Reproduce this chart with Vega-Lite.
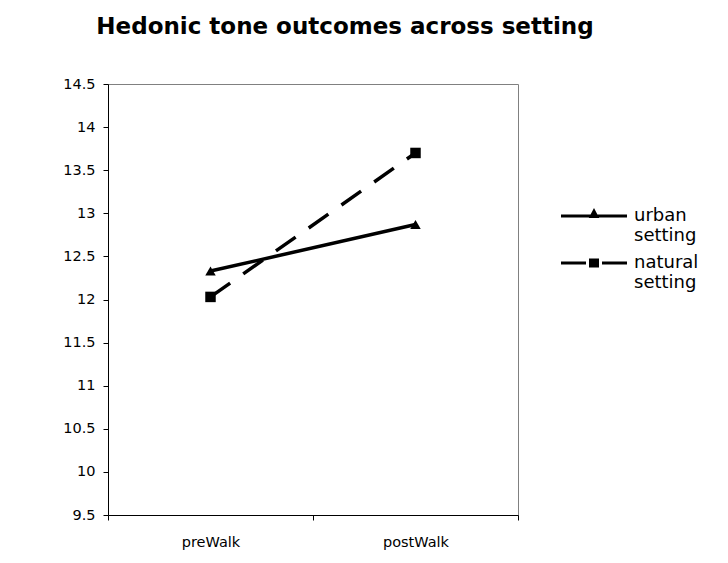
{
  "$schema": "https://vega.github.io/schema/vega-lite/v6.json",
  "width": 410,
  "height": 431,
  "autosize": {"type": "none"},
  "padding": {"left": 108, "top": 84, "right": 210, "bottom": 48},
  "background": "white",
  "title": {
    "text": "Hedonic tone outcomes across setting",
    "font": "DejaVu Sans",
    "fontSize": 23,
    "fontWeight": "bold",
    "color": "black",
    "anchor": "middle",
    "frame": "group",
    "dx": 32,
    "offset": 37
  },
  "config": {
    "view": {"stroke": "#808080", "strokeWidth": 1},
    "axis": {
      "grid": false,
      "domainColor": "black",
      "domainWidth": 1,
      "tickColor": "black",
      "tickSize": 5,
      "labelFont": "DejaVu Sans",
      "labelFontSize": 14.5,
      "labelColor": "black",
      "title": null
    }
  },
  "data": {
    "values": [
      {"time": "preWalk", "setting": "urban setting", "value": 12.33},
      {"time": "postWalk", "setting": "urban setting", "value": 12.87},
      {"time": "preWalk", "setting": "natural setting", "value": 12.03},
      {"time": "postWalk", "setting": "natural setting", "value": 13.70}
    ]
  },
  "encoding": {
    "x": {
      "field": "time",
      "type": "nominal",
      "sort": ["preWalk", "postWalk"],
      "scale": {"type": "band", "paddingInner": 0, "paddingOuter": 0},
      "bandPosition": 0.5,
      "axis": {"labelAngle": 0, "tickBand": "extent", "labelPadding": 15}
    },
    "y": {
      "field": "value",
      "type": "quantitative",
      "scale": {"domain": [9.5, 14.5], "nice": false, "zero": false},
      "axis": {
        "values": [9.5, 10, 10.5, 11, 11.5, 12, 12.5, 13, 13.5, 14, 14.5],
        "format": "~g",
        "labelPadding": 8
      }
    }
  },
  "resolve": {"scale": {"shape": "independent"}, "legend": {"shape": "independent"}},
  "layer": [
    {
      "transform": [{"filter": "datum.setting === 'urban setting'"}],
      "mark": {"type": "line", "strokeWidth": 3.5, "color": "black", "strokeCap": "butt"}
    },
    {
      "transform": [{"filter": "datum.setting === 'natural setting'"}],
      "mark": {"type": "line", "strokeWidth": 3.5, "color": "black", "strokeCap": "butt", "strokeDash": [24, 16]}
    },
    {
      "mark": {"type": "point", "filled": true, "opacity": 1, "color": "black", "size": 110},
      "encoding": {
        "shape": {
          "field": "setting",
          "type": "nominal",
          "scale": {"domain": ["urban setting", "natural setting"], "range": ["triangle-up", "square"]},
          "legend": null
        }
      }
    },
    {
      "mark": {"type": "point", "filled": false, "opacity": 0, "color": "black", "strokeWidth": 3, "size": 100},
      "encoding": {
        "shape": {
          "field": "setting",
          "type": "nominal",
          "scale": {
            "domain": ["urban setting", "natural setting"],
            "range": ["M-6.6,0H6.6M-0.55,0.1L0,-0.95L0.55,0.1Z", "M-6.6,0H-1.6M1.6,0H6.6M-1,-0.6H1M-1,0H1M-1,0.6H1"]
          },
          "legend": {
            "title": null,
            "orient": "none",
            "legendX": 477,
            "legendY": 123,
            "symbolSize": 100,
            "symbolStrokeColor": "black",
            "symbolStrokeWidth": 3,
            "symbolOpacity": 1,
            "labelFont": "DejaVu Sans",
            "labelFontSize": 18,
            "labelColor": "black",
            "labelOffset": 31,
            "labelExpr": "split(datum.label, ' ')",
            "rowPadding": 9
          }
        }
      }
    }
  ]
}
